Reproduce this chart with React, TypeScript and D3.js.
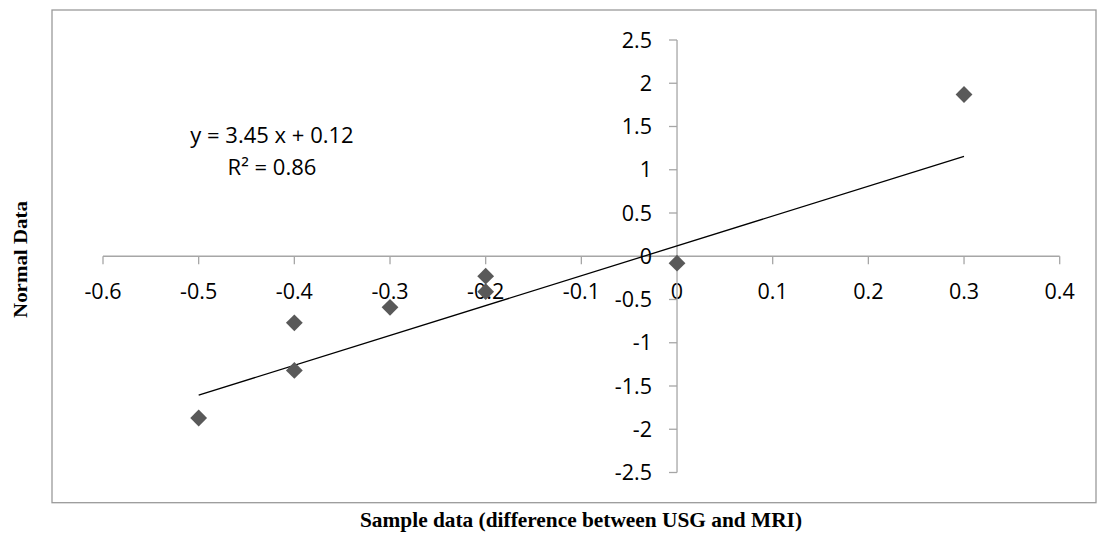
import React from "react";
import * as d3 from "d3";

const xValues = [-0.5, -0.4, -0.4, -0.3, -0.2, -0.2, 0, 0.3];
const yValues = [-1.87, -0.77, -1.32, -0.59, -0.23, -0.41, -0.08, 1.87];
const xTicks = [-0.6, -0.5, -0.4, -0.3, -0.2, -0.1, 0, 0.1, 0.2, 0.3, 0.4];
const yTicks = [-2.5, -2, -1.5, -1, -0.5, 0, 0.5, 1, 1.5, 2, 2.5];
const slope = 3.45;
const intercept = 0.12;
const trendRange = [-0.5, 0.3];
const equationLines = ["y = 3.45 x + 0.12", "R² = 0.86"];
const xTitle = "Sample data (difference between USG and MRI)";
const yTitle = "Normal Data";

export default function App() {
  const W = 1097;
  const H = 533;
  const x = d3.scaleLinear().domain([-0.6, 0.4]).range([103, 1059.7]);
  const y = d3.scaleLinear().domain([-2.5, 2.5]).range([472.5, 40]);
  const x0 = x(0);
  const y0 = y(0);
  const axisColor = "#a6a6a6";
  const tickFont = "'Open Sans', sans-serif";
  const line = d3
    .line<number>()
    .x((d) => x(d))
    .y((d) => y(slope * d + intercept));
  const diamond = d3.symbol().type(d3.symbolDiamond2).size(180);
  const fmt = (v: number) => (Math.round(v * 10) / 10).toString();

  return (
    <svg
      width={W}
      height={H}
      style={{ position: "absolute", left: 0, top: 0, background: "#fff" }}
    >
      {/* frame */}
      <rect x={52} y={10} width={1044} height={492.7} fill="none" stroke="#9a9a9a" strokeWidth={1.3} />

      {/* x axis */}
      <line x1={x(-0.6)} x2={x(0.4)} y1={y0} y2={y0} stroke={axisColor} strokeWidth={1.3} />
      {xTicks.map((t) => (
        <g key={"xt" + t}>
          <line x1={x(t)} x2={x(t)} y1={y0} y2={y0 + 8} stroke={axisColor} strokeWidth={1.3} />
          <text
            x={x(t)}
            y={299}
            textAnchor="middle"
            fontFamily={tickFont}
            fontSize={21.5}
            fill="#000"
          >
            {fmt(t)}
          </text>
        </g>
      ))}

      {/* y axis */}
      <line x1={x0} x2={x0} y1={y(2.5)} y2={y(-2.5)} stroke={axisColor} strokeWidth={1.3} />
      {yTicks.map((t) => (
        <g key={"yt" + t}>
          <line x1={x0 - 8} x2={x0} y1={y(t)} y2={y(t)} stroke={axisColor} strokeWidth={1.3} />
          <text
            x={652}
            y={y(t)}
            dy="0.35em"
            textAnchor="end"
            fontFamily={tickFont}
            fontSize={21.5}
            fill="#000"
          >
            {fmt(t)}
          </text>
        </g>
      ))}

      {/* trend line */}
      <path d={line(trendRange) || ""} fill="none" stroke="#000" strokeWidth={1.3} />

      {/* points */}
      {xValues.map((xv, i) => (
        <path
          key={"p" + i}
          d={diamond() || ""}
          transform={`translate(${x(xv)},${y(yValues[i])})`}
          fill="#595959"
        />
      ))}

      {/* equation */}
      {equationLines.map((s, i) => (
        <text
          key={"eq" + i}
          x={272}
          y={143 + i * 32}
          textAnchor="middle"
          fontFamily={tickFont}
          fontSize={22}
          fill="#000"
        >
          {s}
        </text>
      ))}

      {/* titles */}
      <text
        x={581}
        y={526.5}
        textAnchor="middle"
        fontFamily="'Liberation Serif', 'Times New Roman', serif"
        fontWeight="bold"
        fontSize={22}
        textLength={442}
        lengthAdjust="spacingAndGlyphs"
        fill="#000"
      >
        {xTitle}
      </text>
      <text
        transform={`translate(27,259.5) rotate(-90)`}
        x={0}
        y={0}
        textAnchor="middle"
        fontFamily="'Liberation Serif', 'Times New Roman', serif"
        fontWeight="bold"
        fontSize={19}
        textLength={117}
        lengthAdjust="spacingAndGlyphs"
        fill="#000"
      >
        {yTitle}
      </text>
    </svg>
  );
}
